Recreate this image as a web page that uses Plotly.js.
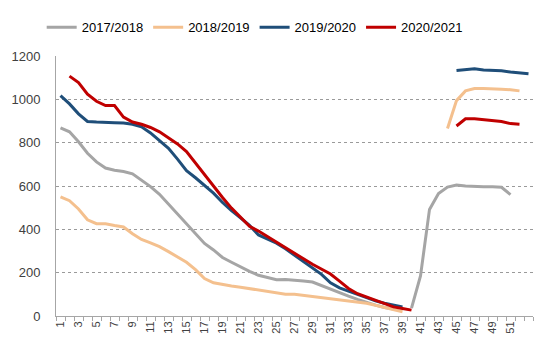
<!DOCTYPE html>
<html>
<head>
<meta charset="utf-8">
<script src="https://cdn.plot.ly/plotly-3.0.1.min.js"></script>
<style>html,body{margin:0;padding:0;background:#fff;}#chart{width:550px;height:350px;}</style>
</head>
<body>
<div id="chart"></div>
<script>
// Week numbers 1..53
const weeks = Array.from({length: 53}, (_, i) => i + 1);
const tickWeeks = [1,3,5,7,9,11,13,15,17,19,21,23,25,27,29,31,33,35,37,39,41,43,45,47,49,51];

const s2017 = [868,850,804,751,711,683,673,667,656,627,597,562,517,467,423,380,335,305,270,248,226,206,188,176,167,168,166,162,157,140,123,108,92,77,62,50,39,32,null,36,185,492,565,595,605,600,597,597,597,594,560,null,null];
const s2018 = [550,532,494,444,426,426,418,411,380,353,338,320,297,274,248,214,173,153,145,138,133,126,118,112,105,100,100,95,88,82,77,74,70,65,59,50,39,29,20,null,null,null,null,865,994,1039,1050,1050,1050,1047,1044,1039,null];
const s2019 = [1017,979,933,898,895,895,892,891,885,873,845,809,774,724,671,638,603,567,524,486,453,418,374,356,336,310,280,252,222,192,153,130,115,100,85,70,59,50,42,null,null,null,null,null,1133,1136,1141,1135,1133,1132,1126,1121,1118];
const s2020 = [null,1107,1077,1024,991,971,971,918,895,885,870,850,824,794,759,706,653,597,547,498,456,414,392,366,338,314,289,264,239,218,194,161,127,103,88,70,55,42,35,27,null,null,null,null,877,910,910,906,903,898,888,885,null];

const names = ["2017/2018","2018/2019","2019/2020","2020/2021"];
const colors = ["#A5A5A5","#F4C08E","#1F4E79","#C00000"];
const series = [s2017, s2018, s2019, s2020];

const traces = series.map((s, i) => ({
  x: weeks, y: s, name: names[i], type: "scatter", mode: "lines",
  connectgaps: false,
  line: {color: colors[i], width: 3}
}));

const layout = {
  width: 550, height: 350,
  margin: {l: 56, r: 17, t: 52, b: 34},
  paper_bgcolor: "#fff", plot_bgcolor: "#fff",
  font: {family: "Liberation Sans, Arial, sans-serif", color: "#404040", size: 13},
  showlegend: true,
  legend: {orientation: "h", x: -0.03, xanchor: "left", y: 1.11, yanchor: "middle",
           font: {size: 13, color: "#000"}, itemgap: 12, traceorder: "normal"},
  xaxis: {
    range: [0.5, 53.5], tickmode: "array", tickvals: tickWeeks, ticktext: tickWeeks.map(String),
    tickangle: -90, tickfont: {size: 11, color: "#404040"}, ticks: "", showgrid: false, zeroline: false,
    showline: true, linecolor: "#A6A6A6", linewidth: 1,
    minor: {tickmode: "linear", tick0: 0.5, dtick: 1, ticks: "outside", ticklen: 4, tickcolor: "#A6A6A6", showgrid: false}
  },
  yaxis: {
    range: [0, 1200], dtick: 200, tickfont: {size: 13, color: "#404040"},
    showgrid: true, gridcolor: "#9A9A9A", griddash: "3px,3px", gridwidth: 1,
    zeroline: false, showline: true, linecolor: "#A6A6A6", linewidth: 1,
    ticks: "", ticklabelstandoff: 12
  }
};

Plotly.newPlot("chart", traces, layout, {displayModeBar: false, staticPlot: true});
</script>
</body>
</html>
